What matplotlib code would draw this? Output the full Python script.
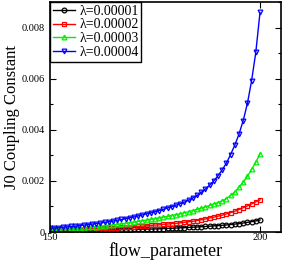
import matplotlib
matplotlib.use('Agg')
import matplotlib.pyplot as plt
from matplotlib.ticker import MultipleLocator, FuncFormatter

# flow parameter values (one point per integer step)
flow_parameter = list(range(150, 201))

lambda_labels = ['\u03bb=0.00001', '\u03bb=0.00002', '\u03bb=0.00003', '\u03bb=0.00004']

# J0 coupling constant
j0_l1 = [0.000040, 0.000042, 0.000044, 0.000046, 0.000048, 0.000050, 0.000053, 0.000056,
         0.000059, 0.000062, 0.000065, 0.000068, 0.000071, 0.000074, 0.000077, 0.000080,
         0.000084, 0.000088, 0.000092, 0.000096, 0.000100, 0.000104, 0.000108, 0.000112,
         0.000116, 0.000120, 0.000127, 0.000134, 0.000141, 0.000148, 0.000155, 0.000163,
         0.000171, 0.000180, 0.000189, 0.000198, 0.000207, 0.000217, 0.000228, 0.000239,
         0.000250, 0.000262, 0.000276, 0.000292, 0.000310, 0.000330, 0.000352, 0.000378,
         0.000405, 0.000435, 0.000470]
j0_l2 = [0.000070, 0.000075, 0.000080, 0.000085, 0.000090, 0.000096, 0.000102, 0.000108,
         0.000115, 0.000122, 0.000130, 0.000140, 0.000145, 0.000150, 0.000155, 0.000160,
         0.000170, 0.000180, 0.000190, 0.000200, 0.000210, 0.000220, 0.000230, 0.000240,
         0.000260, 0.000270, 0.000280, 0.000300, 0.000310, 0.000330, 0.000340, 0.000360,
         0.000380, 0.000400, 0.000420, 0.000450, 0.000480, 0.000510, 0.000550, 0.000580,
         0.000620, 0.000660, 0.000710, 0.000760, 0.000810, 0.000880, 0.000950, 0.001020,
         0.001100, 0.001180, 0.001260]
j0_l3 = [0.000100, 0.000107, 0.000115, 0.000123, 0.000132, 0.000141, 0.000151, 0.000162,
         0.000174, 0.000187, 0.000200, 0.000215, 0.000230, 0.000246, 0.000263, 0.000281,
         0.000300, 0.000320, 0.000342, 0.000365, 0.000390, 0.000415, 0.000440, 0.000465,
         0.000495, 0.000525, 0.000555, 0.000585, 0.000615, 0.000645, 0.000680, 0.000715,
         0.000755, 0.000795, 0.000840, 0.000885, 0.000935, 0.000985, 0.001040, 0.001100,
         0.001150, 0.001220, 0.001310, 0.001430, 0.001570, 0.001750, 0.001950, 0.002180,
         0.002450, 0.002730, 0.003060]
j0_l4 = [0.000150, 0.000160, 0.000170, 0.000190, 0.000200, 0.000220, 0.000230, 0.000250,
         0.000270, 0.000290, 0.000310, 0.000330, 0.000350, 0.000380, 0.000400, 0.000430,
         0.000460, 0.000490, 0.000520, 0.000560, 0.000590, 0.000630, 0.000670, 0.000710,
         0.000750, 0.000790, 0.000840, 0.000890, 0.000940, 0.000990, 0.001050, 0.001110,
         0.001170, 0.001240, 0.001330, 0.001430, 0.001550, 0.001680, 0.001830, 0.002000,
         0.002200, 0.002430, 0.002700, 0.003030, 0.003400, 0.003830, 0.004360, 0.005030,
         0.005920, 0.007030, 0.008590]

series = [j0_l1, j0_l2, j0_l3, j0_l4]
colors = ['black', 'red', '#00ee00', 'blue']
markers = ['o', 's', '^', 'v']

plt.rcParams['font.family'] = ['Liberation Serif', 'DejaVu Serif']

fig = plt.figure(figsize=(2.83, 2.64), dpi=100)
ax = fig.add_axes([50 / 283, 32 / 264, 231 / 283, 230 / 264])

for vals, c, m, lab in zip(series, colors, markers, lambda_labels):
    ax.plot(flow_parameter, vals, color=c, marker=m, markersize=3.4,
            markerfacecolor='none', markeredgewidth=0.9, linewidth=1.0, label=lab)

ax.set_xlim(150, 205)
ax.set_ylim(0, 0.009)
ax.xaxis.set_major_locator(MultipleLocator(50))
ax.yaxis.set_major_locator(MultipleLocator(0.002))
ax.yaxis.set_minor_locator(MultipleLocator(0.001))
ax.yaxis.set_major_formatter(FuncFormatter(lambda v, p: '0' if v == 0 else '%.3f' % v))
ax.tick_params(which='both', direction='in', top=True, right=True, labelsize=7.5)
ax.tick_params(axis='y', which='major', pad=4)
ax.tick_params(axis='x', which='major', pad=1)
ax.tick_params(which='major', length=4, width=0.8)
ax.tick_params(which='minor', length=2.2, width=0.8)
for s in ax.spines.values():
    s.set_linewidth(1.2)

ax.set_xlabel('flow_parameter', fontsize=13, labelpad=0)
ax.set_ylabel('J0 Coupling Constant', fontsize=12, labelpad=1)

leg = ax.legend(loc='upper left', bbox_to_anchor=(0.0, 1.0), fontsize=10,
                handlelength=1.6, handletextpad=0.3, borderpad=0.2, labelspacing=0.05,
                borderaxespad=0.0, fancybox=False, framealpha=1)
leg.get_frame().set_edgecolor('black')
leg.get_frame().set_linewidth(1.0)

fig.savefig('out.png', dpi=100)
